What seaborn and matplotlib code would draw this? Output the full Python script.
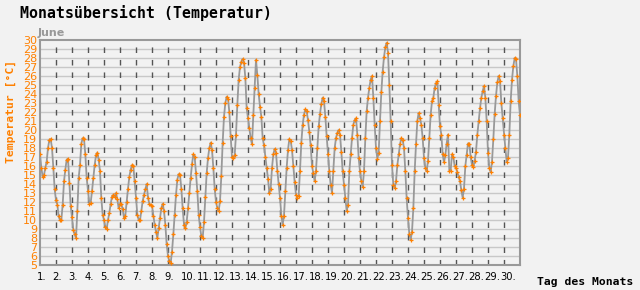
import numpy as np
import pandas as pd
import matplotlib
matplotlib.use("Agg")
import matplotlib.pyplot as plt
import matplotlib.transforms as mtrans
import seaborn as sns

# ---- data: 2-hourly temperatures (°C) ----
hours = [0, 2, 4, 6, 8, 10, 12, 14, 16, 18, 20, 22]
d01 = [17.3, 15.8, 14.8, 15.0, 15.8, 16.5, 18.0, 18.9, 19.0, 18.0, 15.8, 13.4]
d02 = [12.2, 11.7, 10.4, 10.0, 10.0, 11.7, 14.3, 15.6, 16.7, 16.8, 14.1, 11.6]
d03 = [10.3, 8.9, 8.4, 8.0, 11.0, 14.7, 16.1, 18.5, 19.1, 19.0, 17.3, 14.7]
d04 = [13.2, 11.8, 11.9, 13.2, 14.7, 16.1, 17.2, 17.5, 16.7, 15.4, 12.4, 10.6]
d05 = [10.0, 9.2, 9.0, 10.0, 10.8, 11.8, 12.6, 12.8, 12.6, 13.0, 12.3, 11.3]
d06 = [11.8, 11.8, 11.2, 10.2, 10.5, 12.0, 13.5, 14.8, 15.6, 16.1, 16.0, 14.3]
d07 = [12.5, 10.6, 10.0, 10.0, 11.0, 12.1, 12.8, 13.4, 14.0, 12.5, 11.8, 11.7]
d08 = [11.6, 10.5, 9.5, 8.7, 8.0, 9.1, 10.2, 11.3, 11.8, 11.0, 9.5, 7.3]
d09 = [6.0, 5.4, 5.2, 6.5, 8.4, 10.6, 12.8, 14.5, 15.1, 15.0, 13.5, 11.3]
d10 = [9.5, 9.1, 9.8, 11.3, 13.0, 14.7, 16.2, 17.3, 17.0, 15.2, 13.2, 10.6]
d11 = [9.2, 8.2, 8.0, 9.8, 12.6, 15.2, 16.9, 18.0, 18.6, 17.8, 15.8, 13.5]
d12 = [12.0, 11.3, 11.0, 12.1, 14.9, 18.6, 21.5, 23.0, 23.7, 23.5, 22.0, 19.3]
d13 = [17.0, 16.9, 17.2, 19.5, 22.8, 25.6, 27.0, 27.6, 27.9, 27.5, 25.8, 22.4]
d14 = [21.3, 20.2, 19.1, 18.4, 21.7, 24.7, 27.8, 26.1, 24.0, 22.6, 21.5, 19.1]
d15 = [18.3, 17.0, 15.8, 14.6, 13.0, 13.5, 15.8, 17.3, 17.9, 17.5, 15.5, 14.0]
d16 = [12.5, 10.5, 9.5, 10.5, 13.2, 15.8, 17.8, 19.0, 18.8, 17.8, 16.0, 14.2]
d17 = [12.8, 12.5, 12.7, 15.5, 18.6, 20.6, 21.7, 22.3, 22.1, 21.1, 19.8, 18.3]
d18 = [16.0, 15.2, 14.3, 15.5, 18.0, 20.4, 21.8, 22.9, 23.6, 23.2, 21.5, 19.3]
d19 = [17.3, 15.4, 13.9, 13.0, 15.4, 18.0, 19.1, 19.7, 20.0, 19.5, 17.6, 15.4]
d20 = [13.9, 12.4, 11.0, 11.7, 15.4, 17.3, 19.1, 20.6, 21.1, 21.3, 19.5, 16.9]
d21 = [15.4, 14.3, 13.7, 15.4, 19.1, 22.1, 23.6, 24.7, 25.6, 26.0, 23.6, 20.6]
d22 = [18.0, 16.8, 17.5, 21.0, 24.2, 26.5, 28.1, 29.2, 29.7, 28.6, 25.0, 21.0]
d23 = [16.1, 13.9, 13.6, 14.3, 16.1, 17.3, 18.4, 19.1, 18.9, 18.0, 15.4, 12.4]
d24 = [10.2, 8.4, 7.8, 8.7, 11.3, 15.4, 18.4, 21.0, 21.9, 21.3, 20.6, 19.1]
d25 = [16.9, 15.8, 15.4, 16.6, 19.1, 21.7, 23.2, 23.6, 24.7, 25.2, 25.4, 22.8]
d26 = [20.4, 19.5, 17.3, 16.4, 17.2, 18.5, 19.5, 15.5, 15.5, 17.3, 17.0, 16.0]
d27 = [15.8, 15.3, 14.8, 14.3, 13.3, 12.5, 13.5, 16.0, 17.2, 18.5, 18.5, 17.0]
d28 = [16.1, 15.9, 16.6, 17.6, 19.5, 21.0, 22.4, 23.6, 24.3, 24.9, 23.6, 21.0]
d29 = [17.5, 15.8, 15.3, 16.5, 19.0, 21.8, 23.8, 25.3, 26.0, 25.5, 23.0, 21.3]
d30 = [19.5, 18.0, 16.5, 16.9, 19.5, 23.2, 25.6, 27.1, 28.0, 27.9, 26.0, 23.2]
last_value = 21.7  # value at end of day 30

days = [d01, d02, d03, d04, d05, d06, d07, d08, d09, d10,
        d11, d12, d13, d14, d15, d16, d17, d18, d19, d20,
        d21, d22, d23, d24, d25, d26, d27, d28, d29, d30]
day_labels = [f"{i}." for i in range(1, 31)]
y_ticks = list(range(5, 31))

times, temps = [], []
for i, vals in enumerate(days):
    for h, v in zip(hours, vals):
        times.append(i + 1 + h / 24)
        temps.append(v)
times.append(31.0)
temps.append(last_value)
df = pd.DataFrame({"t": times, "temp": temps})

# ---- styling ----
BG = "#f2f2f2"
ORANGE = "#ff8000"
sns.set_theme(style="white")
plt.rcParams["font.family"] = ["DejaVu Sans"]

fig = plt.figure(figsize=(6.4, 2.9), dpi=100, facecolor=BG)
ax = fig.add_axes([40 / 640, 25 / 290, 480 / 640, 225 / 290])
ax.set_facecolor(BG)

sns.lineplot(data=df, x="t", y="temp", ax=ax, color="#999999", linewidth=1.3,
             marker="+", markersize=3, markeredgecolor=ORANGE,
             markerfacecolor=ORANGE, markeredgewidth=0.9, zorder=3)

ax.set_xlim(1, 31)
ax.set_ylim(5, 30)

# horizontal grid
for yv in y_ticks[1:-1]:
    ax.axhline(yv, color="#c8c8c8", linewidth=1.0, zorder=1)
# vertical dashed grid
for d in range(2, 31):
    ax.axvline(d, color="#555555", linewidth=1.0, linestyle=(0, (4, 5)), zorder=1)

ax.set_yticks(y_ticks)
ax.set_yticklabels([str(v) for v in y_ticks], color=ORANGE, fontsize=8)
ax.set_xticks(list(range(1, 31)))
ax.set_xticklabels(day_labels, fontsize=7.2, color="black")
ax.tick_params(axis="both", length=0, pad=2)
ax.tick_params(axis="x", pad=5)
offset = mtrans.ScaledTranslation(-2.5 / 72, 0, fig.dpi_scale_trans)
for lab in ax.get_xticklabels():
    lab.set_horizontalalignment("left")
    lab.set_transform(lab.get_transform() + offset)

for s in ax.spines.values():
    s.set_color("#999999")
    s.set_linewidth(1.5)
ax.set_xlabel("")
ax.set_ylabel("")

fig.text(20 / 640, 1 - 18 / 290, "Monatsübersicht (Temperatur)", fontsize=10.7,
         fontweight="bold", family="DejaVu Sans Mono", color="black",
         ha="left", va="baseline")
fig.text(38 / 640, 1 - 36 / 290, "June", fontsize=8, fontweight="bold",
         color="#999999", ha="left", va="baseline")
fig.text(11 / 640, 1 - 111 / 290, "Temperatur [°C]", fontsize=8.2,
         fontweight="bold", family="DejaVu Sans Mono", color=ORANGE,
         rotation=90, ha="center", va="center")
fig.text(537 / 640, 1 - 285 / 290, "Tag des Monats", fontsize=8.2,
         fontweight="bold", family="DejaVu Sans Mono", color="black",
         ha="left", va="baseline")

fig.savefig("out.png", dpi=100, facecolor=BG)
